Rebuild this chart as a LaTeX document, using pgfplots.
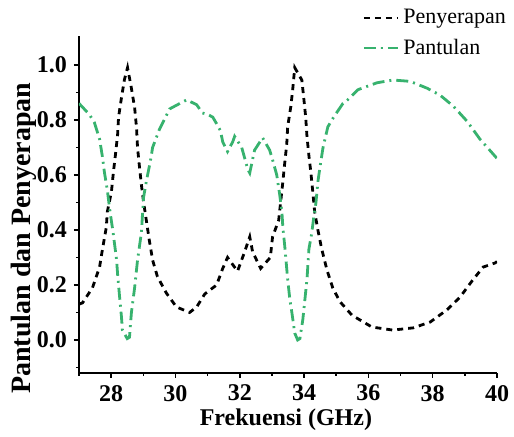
\documentclass[border=0pt]{standalone}
\usepackage{pgfplots}
\pgfplotsset{compat=1.18}
\usepackage{fontspec}
\setmainfont{Liberation Serif}
\definecolor{pgreen}{RGB}{55,178,110}
\begin{document}
\begin{tikzpicture}
\useasboundingbox (-39.5pt,-32pt) rectangle (217.5pt,186.5pt);
\begin{axis}[
  at={(0,0)}, anchor=south west,
  scale only axis, width=209pt, height=168.5pt,
  xmin=27, xmax=40, ymin=-0.12, ymax=1.105,
  axis x line*=bottom, axis y line*=left,
  axis line style={line width=0.8pt},
  xtick={28,30,32,34,36,38,40}, minor xtick={27,29,31,33,35,37,39},
  ytick={0,0.2,0.4,0.6,0.8,1.0}, minor ytick={-0.1,0.1,0.3,0.5,0.7,0.9},
  tick align=outside, major tick length=2.5pt, minor tick length=1.5pt,
  tick style={line width=0.8pt, black},
  /pgf/number format/assume math mode=true,
  yticklabel style={/pgf/number format/fixed, /pgf/number format/fixed zerofill, /pgf/number format/precision=1},
  ticklabel style={font=\bfseries\fontsize{12}{13}\selectfont},
  xlabel={Frekuensi (GHz)},
  ylabel={Pantulan dan Penyerapan},
  xlabel style={font=\bfseries\fontsize{12}{14}\selectfont, at={(axis description cs:0.495,-0.139)}, anchor=center},
  ylabel style={font=\bfseries\fontsize{14}{16}\selectfont, at={(axis description cs:-0.132,0.40)}, anchor=center},
  legend style={at={(axis description cs:0.677,1.092)}, anchor=north west, draw=none, fill=none,
    font=\fontsize{11}{13}\selectfont, row sep=2pt, inner sep=0pt, cells={anchor=west}},
]
\addplot[black, line width=1.4pt, dash pattern=on 3pt off 2.5pt] coordinates {
(27.00,0.13) (27.11,0.135) (27.42,0.19) (27.64,0.265) (27.73,0.33) (27.85,0.41)
(27.88,0.465) (28.01,0.54) (28.07,0.61) (28.13,0.67) (28.20,0.745) (28.23,0.81)
(28.32,0.88) (28.41,0.945) (28.51,0.99) (28.63,0.915) (28.73,0.845) (28.79,0.77)
(28.82,0.70) (28.88,0.63) (28.94,0.565) (29.01,0.50) (29.10,0.43) (29.19,0.36)
(29.29,0.29) (29.44,0.23) (29.72,0.17)
(30.03,0.12) (30.44,0.10) (30.66,0.12) (30.91,0.167) (31.28,0.20) (31.47,0.26)
(31.62,0.30) (31.93,0.25) (32.15,0.32) (32.31,0.375) (32.40,0.32) (32.65,0.26)
(32.95,0.30) (33.02,0.375) (33.21,0.435) (33.34,0.575) (33.40,0.645) (33.46,0.71)
(33.49,0.775) (33.59,0.85) (33.65,0.915) (33.71,0.99) (33.93,0.945)
(33.99,0.88) (34.05,0.81) (34.09,0.74) (34.15,0.67) (34.21,0.61) (34.27,0.54)
(34.33,0.465) (34.43,0.40) (34.55,0.33) (34.71,0.255) (34.89,0.19) (35.11,0.14) (35.49,0.09)
(36.11,0.047) (36.76,0.036) (37.39,0.044) (37.92,0.065) (38.45,0.11) (38.85,0.156)
(39.26,0.22) (39.57,0.265) (39.94,0.28) (40.00,0.285)
};
\addlegendentry{Penyerapan}
\addplot[pgreen, line width=1.4pt, dash pattern=on 6pt off 2.5pt on 1pt off 2.5pt] coordinates {
(27.00,0.86) (27.32,0.82) (27.48,0.79) (27.64,0.73) (27.73,0.665) (27.79,0.61)
(27.88,0.545) (27.95,0.48) (28.01,0.43) (28.05,0.40) (28.17,0.29) (28.20,0.24) (28.26,0.16)
(28.32,0.085) (28.35,0.036) (28.50,0.005) (28.57,0.01) (28.63,0.10) (28.73,0.19)
(28.82,0.29) (28.94,0.39) (28.98,0.465) (29.01,0.52) (29.10,0.58) (29.22,0.65)
(29.29,0.70) (29.50,0.765) (29.82,0.84) (30.22,0.865) (30.35,0.873) (30.66,0.855)
(30.84,0.825) (31.00,0.82) (31.16,0.81) (31.31,0.78) (31.40,0.76) (31.47,0.72)
(31.62,0.685) (31.78,0.72) (31.84,0.74) (32.06,0.70) (32.25,0.62) (32.31,0.607)
(32.46,0.69) (32.71,0.735) (32.93,0.69) (33.02,0.655) (33.15,0.60) (33.24,0.53)
(33.31,0.465) (33.34,0.41) (33.40,0.34) (33.49,0.22) (33.56,0.145) (33.62,0.10)
(33.71,0.025) (33.80,0.0) (33.87,0.005) (33.96,0.073) (34.09,0.22) (34.15,0.33)
(34.24,0.39) (34.30,0.445) (34.37,0.50) (34.43,0.575) (34.49,0.625) (34.59,0.70) (34.74,0.775)
(34.92,0.81) (35.21,0.86) (35.33,0.87) (35.68,0.91) (36.27,0.935) (36.77,0.945)
(37.30,0.94) (37.83,0.915) (38.23,0.89) (38.64,0.85) (39.07,0.795) (39.47,0.73)
(40.00,0.66)
};
\addlegendentry{Pantulan}
\end{axis}
\end{tikzpicture}
\end{document}
